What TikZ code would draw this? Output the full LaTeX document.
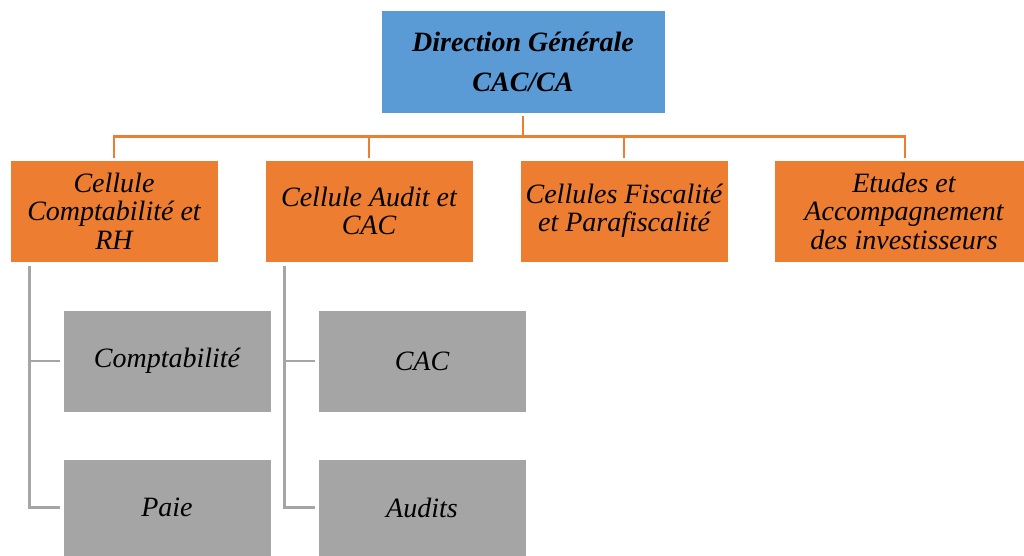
\documentclass[tikz,border=0pt]{standalone}
\usepackage{fontspec}
\setmainfont{Liberation Serif}
\definecolor{dgblue}{HTML}{5B9BD5}
\definecolor{corange}{HTML}{ED7D31}
\definecolor{sgray}{HTML}{A5A5A5}
\tikzset{
  dgbox/.style={fill=dgblue, draw=white, line width=0.6pt, minimum width=284pt, minimum height=103pt, inner sep=0pt, align=center,
    font=\fontsize{28}{40}\selectfont\bfseries\itshape},
  cellbox/.style={fill=corange, draw=white, line width=0.6pt, minimum width=208pt, minimum height=102pt, inner sep=0pt, align=center,
    font=\fontsize{28}{28.5}\selectfont\itshape},
  subbox/.style={fill=sgray, draw=white, line width=0.6pt, minimum width=208pt, minimum height=102pt, inner sep=0pt, align=center,
    font=\fontsize{28}{28.5}\selectfont\itshape},
  obus/.style={draw=corange, line width=2.6pt},
  gline/.style={draw=sgray, line width=2.6pt},
}
\begin{document}
\begin{tikzpicture}[x=1pt,y=-1pt]
\useasboundingbox[fill=white] (0,0) rectangle (1024,556);
\node[dgbox] (dg) at (523,61.5) {Direction Générale\\CAC/CA};
\node[cellbox] (c1) at (114,211) {Cellule\\Comptabilité et\\RH};
\node[cellbox] (c2) at (369,211) {Cellule Audit et\\CAC};
\node[cellbox] (c3) at (624,211) {Cellules Fiscalité\\et Parafiscalité};
\node[cellbox, minimum width=250pt] (c4) at (899,211) {\hspace*{10pt}Etudes et\\\hspace*{10pt}Accompagnement\\\hspace*{10pt}des investisseurs};
\node[subbox] (compta) at (167,361) {Comptabilité};
\node[subbox, minimum height=97pt] (paie) at (167,507.5) {Paie};
\node[subbox] (cac) at (422,361) {CAC};
\node[subbox, minimum height=97pt] (audits) at (422,507.5) {Audits};
\coordinate (busy) at (0,136.5);
\draw[obus] ([yshift=-3pt]dg.south) -- (dg.south |- busy);
\draw[obus] ([yshift=2pt]c1.north) -- (c1.north |- busy) -- ([xshift=6pt]c4.north |- busy) -- ([xshift=6pt,yshift=2pt]c4.north);
\draw[obus] (c2.north |- busy) -- ([yshift=2pt]c2.north);
\draw[obus] (c3.north |- busy) -- ([yshift=2pt]c3.north);
\draw[gline] ([xshift=20pt,yshift=-4pt]c1.south west) |- ([xshift=-3pt]paie.west);
\draw[gline] ([xshift=20pt]c1.south west |- compta.west) -- ([xshift=-3pt]compta.west);
\draw[gline] ([xshift=20pt,yshift=-4pt]c2.south west) |- ([xshift=-3pt]audits.west);
\draw[gline] ([xshift=20pt]c2.south west |- cac.west) -- ([xshift=-3pt]cac.west);
\end{tikzpicture}
\end{document}
